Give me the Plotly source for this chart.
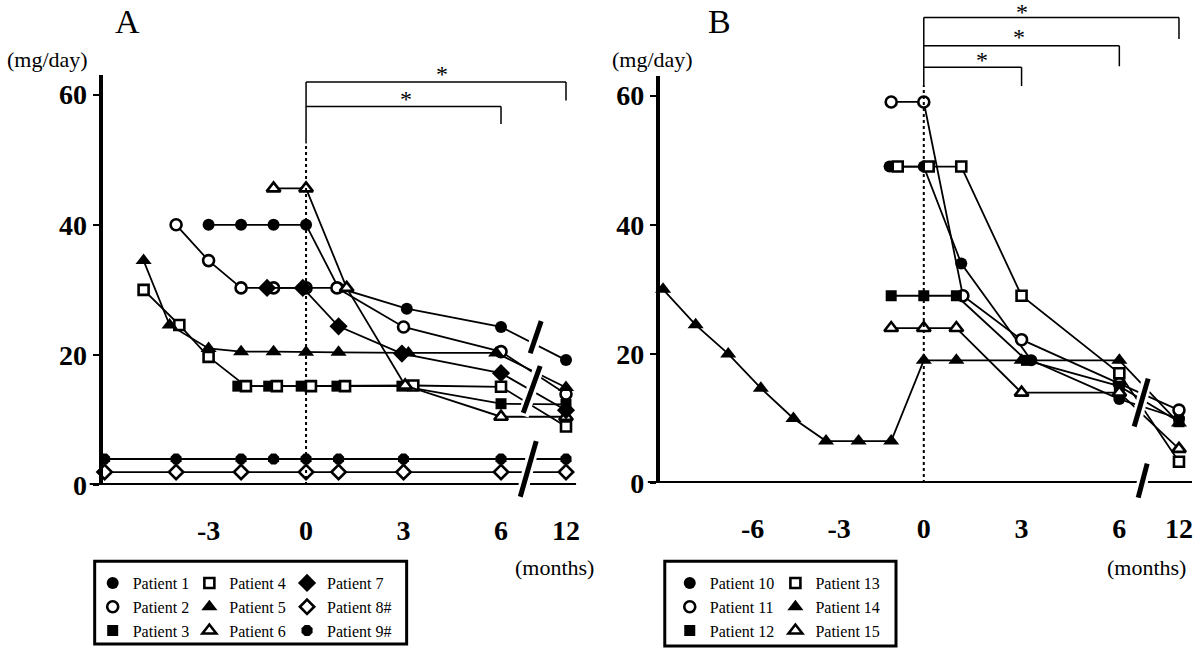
import plotly.graph_objects as go

W, H = 1200, 665
SERIF = "Liberation Serif"

# ---------------- Panel A data (months, mg/day) ----------------
a_names = ["Patient 1", "Patient 2", "Patient 3", "Patient 4", "Patient 5",
           "Patient 6", "Patient 7", "Patient 8#", "Patient 9#"]
a_p1_x = [-3, -2, -1, 0, 1, 3.1, 6, 12]
a_p1_y = [40, 40, 40, 40, 30.3, 27.1, 24.3, 19.2]
a_p2_x = [-4, -3, -2, -1, 0, 0.95, 3, 6, 12]
a_p2_y = [40, 34.5, 30.3, 30.3, 30.3, 30.3, 24.3, 20.5, 14]
a_p3_x = [-2.1, -1.15, -0.15, 0.95, 2.95, 6, 12]
a_p3_y = [15.2, 15.2, 15.2, 15.2, 15.2, 12.5, 12.4]
a_p4_x = [-5, -3.9, -3, -1.85, -0.9, 0.15, 1.2, 3.3, 6, 12]
a_p4_y = [30, 24.6, 19.7, 15.2, 15.2, 15.2, 15.2, 15.3, 15.1, 9]
a_p5_x = [-5, -4.2, -3, -2, -1, 0, 1, 3.15, 5.85, 12]
a_p5_y = [34.5, 24.6, 21, 20.5, 20.5, 20.4, 20.4, 20.3, 20.3, 15]
a_p6_x = [-1, 0, 1.25, 3.05, 6, 12]
a_p6_y = [45.6, 45.6, 30.3, 15.3, 10.5, 10.5]
a_p7_x = [-1.2, -0.1, 1, 2.95, 6, 12]
a_p7_y = [30.3, 30.3, 24.4, 20.2, 17.2, 11.5]
a_p8_x = [-6.2, -4, -2, 0, 1, 3, 6, 12]
a_p8_y = [2, 2, 2, 2, 2, 2, 2, 2]
a_p9_x = [-6.2, -4, -2, -1, 0, 1, 3, 6, 12]
a_p9_y = [4, 4, 4, 4, 4, 4, 4, 4, 4]

# ---------------- Panel B data ----------------
b_names = ["Patient 10", "Patient 11", "Patient 12", "Patient 13",
           "Patient 14", "Patient 15"]
b_p10_x = [-1.05, 0, 1.15, 3.3, 6, 12]
b_p10_y = [49, 49, 34, 19, 13, 10]
b_p11_x = [-1, 0, 1.2, 3, 6, 12]
b_p11_y = [59, 59, 29, 22.2, 15.4, 11.3]
b_p12_x = [-1, 0, 1, 3.15, 6, 12]
b_p12_y = [29, 29, 29, 19, 15, 9.5]
b_p13_x = [-0.8, 0.15, 1.15, 3, 6, 12]
b_p13_y = [49, 49, 49, 29, 17, 3.3]
b_p14_x = [-8, -7, -6, -5, -4, -3, -2, -1, 0, 1, 3, 6, 12]
b_p14_y = [30, 24.5, 20, 14.7, 10, 6.5, 6.5, 6.5, 19, 19, 19, 19, 9.3]
b_p15_x = [-1, 0, 1, 3, 6, 12]
b_p15_y = [24, 24, 24, 14, 14, 5.3]

a_tick_months = [-3, 0, 3, 6, 12]
b_tick_months = [-6, -3, 0, 3, 6, 12]
y_ticks = [0, 20, 40, 60]

# ---------------- layout constants ----------------
# axis-break positions for the 12-month column
A_12 = 8.0
B_12 = 7.83
# panel B negative-month labels sit slightly right of the data grid
B_LABEL_POS = {-6: -5.25, -3: -2.6}


def pa(ms):
    return [A_12 if m == 12 else m for m in ms]


def pb(ms):
    return [B_12 if m == 12 else m for m in ms]


def sym(kind):
    filled = dict(color="black", line=dict(color="black", width=0))
    hollow = dict(color="white", line=dict(color="black", width=2.6))
    table = {
        "circle": ("circle", 12, filled),
        "circle-o": ("circle", 11, hollow),
        "square": ("square", 11, filled),
        "square-o": ("square", 10, hollow),
        "tri": ("triangle-up", 14, filled),
        "tri-o": ("triangle-up", 12, hollow),
        "diamond": ("diamond", 14, filled),
        "diamond-o": ("diamond", 11, hollow),
        "oct": ("octagon", 12, filled),
    }
    s, size, style = table[kind]
    return dict(symbol=s, size=size, **style)


fig = go.Figure()

a_series = [
    (a_p1_x, a_p1_y, "circle", 0, "legend"),
    (a_p2_x, a_p2_y, "circle-o", 1, "legend"),
    (a_p3_x, a_p3_y, "square", 2, "legend"),
    (a_p4_x, a_p4_y, "square-o", 3, "legend2"),
    (a_p5_x, a_p5_y, "tri", 4, "legend2"),
    (a_p6_x, a_p6_y, "tri-o", 5, "legend2"),
    (a_p7_x, a_p7_y, "diamond", 6, "legend3"),
    (a_p8_x, a_p8_y, "diamond-o", 7, "legend3"),
    (a_p9_x, a_p9_y, "oct", 8, "legend3"),
]
for xs, ys, kind, i, leg in a_series:
    fig.add_trace(go.Scatter(x=pa(xs), y=ys, mode="lines+markers",
                             line=dict(color="black", width=1.8),
                             marker=sym(kind), cliponaxis=False,
                             showlegend=False, xaxis="x", yaxis="y"))
for xs, ys, kind, i, leg in a_series:
    fig.add_trace(go.Scatter(x=[None], y=[None], mode="markers",
                             marker=sym(kind), name=a_names[i],
                             legend=leg, legendrank=i, xaxis="x", yaxis="y"))

b_series = [
    (b_p10_x, b_p10_y, "circle", 0, "legend4"),
    (b_p11_x, b_p11_y, "circle-o", 1, "legend4"),
    (b_p12_x, b_p12_y, "square", 2, "legend4"),
    (b_p13_x, b_p13_y, "square-o", 3, "legend5"),
    (b_p14_x, b_p14_y, "tri", 4, "legend5"),
    (b_p15_x, b_p15_y, "tri-o", 5, "legend5"),
]
for xs, ys, kind, i, leg in b_series:
    fig.add_trace(go.Scatter(x=pb(xs), y=ys, mode="lines+markers",
                             line=dict(color="black", width=1.8),
                             marker=sym(kind), cliponaxis=False,
                             showlegend=False, xaxis="x2", yaxis="y2"))
for xs, ys, kind, i, leg in b_series:
    fig.add_trace(go.Scatter(x=[None], y=[None], mode="markers",
                             marker=sym(kind), name=b_names[i],
                             legend=leg, legendrank=i, xaxis="x2", yaxis="y2"))


def px(x):
    return x / W


def py(y):
    return 1 - y / H


tickfont = dict(family=SERIF, size=28, color="black", weight="bold")
yaxis_common = dict(range=[0, 63], tickvals=y_ticks, showline=True,
                    linewidth=4, linecolor="black", ticks="outside",
                    ticklen=6, tickwidth=2, tickcolor="black",
                    showgrid=False, zeroline=False, tickfont=tickfont,
                    fixedrange=True)
xaxis_common = dict(showline=False, showgrid=False, zeroline=False,
                    ticks="outside", ticklen=20, tickcolor="rgba(0,0,0,0)",
                    tickfont=tickfont, fixedrange=True)

legend_common = dict(font=dict(family=SERIF, size=16, color="black"),
                     bgcolor="rgba(0,0,0,0)", borderwidth=0,
                     orientation="v", xanchor="left", yanchor="top",
                     tracegroupgap=0, itemclick=False, itemdoubleclick=False)
leg_top = py(580)

b_tickvals = [B_LABEL_POS.get(m, m) for m in pb(b_tick_months)]

fig.update_layout(
    width=W, height=H, margin=dict(l=0, r=0, t=0, b=0),
    paper_bgcolor="white", plot_bgcolor="white",
    xaxis=dict(domain=[px(103), px(578)], range=[-6.26, 8.31],
               tickvals=pa(a_tick_months),
               ticktext=[str(m) for m in a_tick_months], anchor="y",
               **xaxis_common),
    yaxis=dict(domain=[py(497), py(77)], anchor="x", **yaxis_common),
    xaxis2=dict(domain=[px(662), px(1196)], range=[-8.1, 8.23],
                tickvals=b_tickvals,
                ticktext=[str(m) for m in b_tick_months], anchor="y2",
                **xaxis_common),
    yaxis2=dict(domain=[py(495), py(78)], anchor="x2", **yaxis_common),
    legend=dict(x=px(93), y=leg_top, **legend_common),
    legend2=dict(x=px(190), y=leg_top, **legend_common),
    legend3=dict(x=px(288), y=leg_top, **legend_common),
    legend4=dict(x=px(672), y=leg_top, **legend_common),
    legend5=dict(x=px(778), y=leg_top, **legend_common),
)

shapes = []


def seg(x0, y0, x1, y1, w=1.5, dash=None, xref="paper", yref="paper",
        color="black"):
    ln = dict(color=color, width=w)
    if dash:
        ln["dash"] = dash
    shapes.append(dict(type="line", xref=xref, yref=yref, x0=x0, y0=y0,
                       x1=x1, y1=y1, line=ln, layer="above"))


# x-axis lines
seg(px(90), 0, px(578), 0, w=4, yref="y")
seg(px(650), 0, px(1196), 0, w=4, yref="y2")

# Panel A: dotted baseline + significance brackets
seg(0, py(497), 0, py(147), w=2, dash="dot", xref="x")
seg(0, py(147), 0, py(84), w=1.5, xref="x")
seg(0, py(84), A_12, py(84), w=1.5, xref="x")
seg(A_12, py(84), A_12, py(103), w=1.5, xref="x")
seg(0, py(109), 6, py(109), w=1.5, xref="x")
seg(6, py(109), 6, py(127), w=1.5, xref="x")

# Panel B
seg(0, py(495), 0, py(87), w=2, dash="dot", xref="x2")
seg(0, py(87), 0, py(18), w=1.5, xref="x2")
seg(0, py(18), B_12, py(18), w=1.5, xref="x2")
seg(B_12, py(18), B_12, py(40), w=1.5, xref="x2")
seg(0, py(47), 6, py(47), w=1.5, xref="x2")
seg(6, py(47), 6, py(68), w=1.5, xref="x2")
seg(0, py(69), 3, py(69), w=1.5, xref="x2")
seg(3, py(69), 3, py(88), w=1.5, xref="x2")

# break slashes (white halo then black bar)
slashes = [((532, 362), (543, 329)), ((525, 423), (542, 375)),
           ((522, 509), (538, 452)), ((1138, 437), (1152, 388)),
           ((1142, 510), (1151, 475))]
for (x0, y0), (x1, y1) in slashes:
    seg(px(x0), py(y0 + 3), px(x1), py(y1 - 3), w=11, color="white")
for (x0, y0), (x1, y1) in slashes:
    seg(px(x0), py(y0), px(x1), py(y1), w=5)

# legend boxes
for (x0, y0, x1, y1) in [(95, 575, 408, 660), (667, 575, 899, 662)]:
    shapes.append(dict(type="rect", xref="paper", yref="paper",
                       x0=px(x0), y0=py(y0), x1=px(x1), y1=py(y1),
                       line=dict(color="black", width=3), layer="above"))

annotations = []


def txt(s, x, y, size, bold=False):
    f = dict(family=SERIF, size=size, color="black")
    if bold:
        f["weight"] = "bold"
    annotations.append(dict(text=s, x=px(x), y=py(y), xref="paper",
                            yref="paper", showarrow=False, font=f,
                            xanchor="center", yanchor="middle"))


txt("A", 128, 22, 34)
txt("B", 722, 22, 34)
txt("(mg/day)", 48, 61, 22)
txt("(mg/day)", 655, 61, 22)
txt("(months)", 556, 582, 22)
txt("(months)", 1150, 582, 22)
txt("*", 443, 76, 24)
txt("*", 407, 101, 24)
txt("*", 1025, 12, 24)
txt("*", 1022, 38, 24)
txt("*", 985, 61, 24)

fig.update_layout(shapes=shapes, annotations=annotations)

fig.write_html("out.html", config=dict(displayModeBar=False),
               post_script="document.body.style.margin='0';"
                           "document.body.style.overflow='hidden';")
